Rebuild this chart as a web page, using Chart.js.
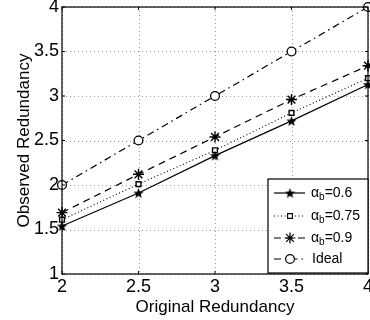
<!DOCTYPE html>
<html><head><meta charset="utf-8">
<script src="https://cdn.jsdelivr.net/npm/chart.js@4.4.1/dist/chart.umd.min.js"></script>
<style>html,body{margin:0;padding:0;background:#fff}#wrap{width:370px;height:320px}</style>
</head><body><div id="wrap"><canvas id="c" width="370" height="320"></canvas></div>
<script>
const xValues = [2, 2.5, 3, 3.5, 4];
const alpha06 = [1.54, 1.91, 2.33, 2.72, 3.13];
const alpha075 = [1.61, 2.01, 2.39, 2.81, 3.20];
const alpha09 = [1.69, 2.12, 2.54, 2.96, 3.34];
const ideal = [2, 2.5, 3, 3.5, 4];
const xTicks = [2, 2.5, 3, 3.5, 4];
const yTicks = [1, 1.5, 2, 2.5, 3, 3.5, 4];
const legendSubs = ['0.6', '0.75', '0.9'];
const legendIdeal = 'Ideal';

function pentagram(size, fill) {
  const cv = document.createElement('canvas');
  cv.width = size; cv.height = size;
  const g = cv.getContext('2d');
  const cx = size / 2, cy = size / 2, R = size / 2, r = R * 0.42;
  g.beginPath();
  for (let i = 0; i < 10; i++) {
    const rad = i % 2 === 0 ? R : r;
    const a = -Math.PI / 2 + i * Math.PI / 5;
    const px = cx + rad * Math.cos(a), py = cy + rad * Math.sin(a) + 0.5;
    i === 0 ? g.moveTo(px, py) : g.lineTo(px, py);
  }
  g.closePath();
  g.fillStyle = fill; g.fill();
  return cv;
}
const starImg = pentagram(11, '#000');

const pts = arr => xValues.map((x, i) => ({x: x, y: arr[i]}));
const FONT = "'Liberation Sans', Arial, Helvetica, sans-serif";

const datasets = [
  {label: 'a0.6', data: pts(alpha06), borderColor: '#000', borderWidth: 1.2, borderDash: [],
   pointStyle: starImg, pointRadius: 5, backgroundColor: '#000', clip: false},
  {label: 'a0.75', data: pts(alpha075), borderColor: '#000', borderWidth: 1.1, borderDash: [1, 2.5],
   pointStyle: 'rect', pointRadius: 3.4, pointBorderWidth: 1.4, pointBackgroundColor: '#fff', backgroundColor: '#fff', clip: false},
  {label: 'a0.9', data: pts(alpha09), borderColor: '#000', borderWidth: 1.2, borderDash: [7, 5],
   pointStyle: 'star', pointRadius: 5.5, pointBorderWidth: 1.4, backgroundColor: '#000', clip: false},
  {label: 'Ideal', data: pts(ideal), borderColor: '#000', borderWidth: 1.2, borderDash: [7, 4, 1.5, 4],
   pointStyle: 'circle', pointRadius: 4.4, pointBorderWidth: 1.3, pointBackgroundColor: '#fff', backgroundColor: '#fff', clip: false}
];

const gridPlugin = {
  id: 'dotgrid',
  beforeDatasetsDraw(chart) {
    const {ctx, chartArea: a} = chart;
    const xs = chart.scales.x, ys = chart.scales.y;
    ctx.save();
    ctx.strokeStyle = '#9a9a9a'; ctx.lineWidth = 1; ctx.setLineDash([1, 3]);
    ctx.beginPath();
    xTicks.forEach(v => {
      const px = Math.round(xs.getPixelForValue(v)) + 0.5;
      ctx.moveTo(px, a.top); ctx.lineTo(px, a.bottom);
    });
    yTicks.forEach(v => {
      const py = Math.round(ys.getPixelForValue(v)) + 0.5;
      ctx.moveTo(a.left, py); ctx.lineTo(a.right, py);
    });
    ctx.stroke();
    ctx.restore();
  }
};

const framePlugin = {
  id: 'frame',
  afterDatasetsDraw(chart) {
    const {ctx, chartArea: a} = chart;
    ctx.save();
    ctx.strokeStyle = '#000'; ctx.lineWidth = 1.2; ctx.setLineDash([]);
    ctx.strokeRect(a.left, a.top, a.right - a.left, a.bottom - a.top);
    const xs = chart.scales.x, ys = chart.scales.y;
    ctx.lineWidth = 1;
    ctx.beginPath();
    xTicks.forEach(v => {
      const px = xs.getPixelForValue(v);
      ctx.moveTo(px, a.bottom); ctx.lineTo(px, a.bottom - 3);
      ctx.moveTo(px, a.top); ctx.lineTo(px, a.top + 3);
    });
    yTicks.forEach(v => {
      const py = ys.getPixelForValue(v);
      ctx.moveTo(a.left, py); ctx.lineTo(a.left + 3, py);
      ctx.moveTo(a.right, py); ctx.lineTo(a.right - 3, py);
    });
    ctx.stroke();
    // legend box
    const bx = 268, by = 179, bw = a.right - 268, bh = a.bottom - 1 - 179;
    ctx.fillStyle = '#fff';
    ctx.fillRect(bx, by, bw, bh);
    ctx.lineWidth = 1.2;
    ctx.strokeRect(bx, by, bw, bh);
    const rows = [193, 216, 238, 259];
    chart.data.datasets.forEach((ds, i) => {
      const y = rows[i];
      ctx.save();
      ctx.strokeStyle = '#000'; ctx.lineWidth = ds.borderWidth;
      ctx.setLineDash(ds.borderDash);
      ctx.beginPath(); ctx.moveTo(274, y); ctx.lineTo(305, y); ctx.stroke();
      ctx.setLineDash([]);
      ctx.fillStyle = ds.pointBackgroundColor || '#000';
      Chart.helpers.drawPoint(ctx, {
        pointStyle: ds.pointStyle, radius: ds.pointRadius, borderWidth: ds.pointBorderWidth || 1,
        rotation: 0
      }, 290, y);
      ctx.restore();
      ctx.save();
      ctx.fillStyle = '#000';
      ctx.textBaseline = 'middle';
      if (i < 3) {
        ctx.font = '14px ' + FONT;
        ctx.fillText('\u03b1', 311, y);
        const wa = ctx.measureText('\u03b1').width;
        ctx.font = '10px ' + FONT;
        ctx.fillText('b', 311 + wa, y + 4);
        const wb = ctx.measureText('b').width;
        ctx.font = '14px ' + FONT;
        ctx.fillText('=' + legendSubs[i], 311 + wa + wb, y);
      } else {
        ctx.font = '14px ' + FONT;
        ctx.fillText(legendIdeal, 312, y);
      }
      ctx.restore();
    });
    ctx.restore();
  }
};

const noPad = () => ({left: 0, right: 0, top: 0, bottom: 0});

new Chart(document.getElementById('c'), {
  type: 'line',
  data: {datasets: datasets},
  plugins: [gridPlugin, framePlugin],
  options: {
    responsive: false,
    animation: false,
    events: [],
    layout: {autoPadding: false, padding: {top: 7, right: 2, left: 0, bottom: 0}},
    plugins: {legend: {display: false}, tooltip: {enabled: false}},
    elements: {line: {tension: 0, fill: false}, point: {borderColor: '#000'}},
    scales: {
      x: {
        type: 'linear', min: 2, max: 4,
        afterBuildTicks: s => { s.ticks = xTicks.map(v => ({value: v})); },
        afterFit: s => { s.height = 46; s.paddingLeft = 0; s.paddingRight = 0; s.getPadding = noPad; },
        grid: {display: false, drawTicks: false},
        border: {display: false},
        ticks: {color: '#000', font: {size: 18, family: FONT}, padding: 2, maxRotation: 0, autoSkip: false,
                callback: v => String(v)},
        title: {display: true, text: 'Original Redundancy', color: '#000', font: {size: 17, family: FONT},
                padding: {top: 0, bottom: 2}}
      },
      y: {
        type: 'linear', min: 1, max: 4,
        afterBuildTicks: s => { s.ticks = yTicks.map(v => ({value: v})); },
        afterFit: s => { s.width = 62; s.paddingTop = 0; s.paddingBottom = 0; s.getPadding = noPad; },
        grid: {display: false, drawTicks: false},
        border: {display: false},
        ticks: {color: '#000', font: {size: 18, family: FONT}, padding: 3, autoSkip: false,
                callback: v => String(v)},
        title: {display: true, text: 'Observed Redundancy', color: '#000', font: {size: 17, family: FONT},
                padding: {top: 14, bottom: 0}}
      }
    }
  }
});
</script>
</body></html>
